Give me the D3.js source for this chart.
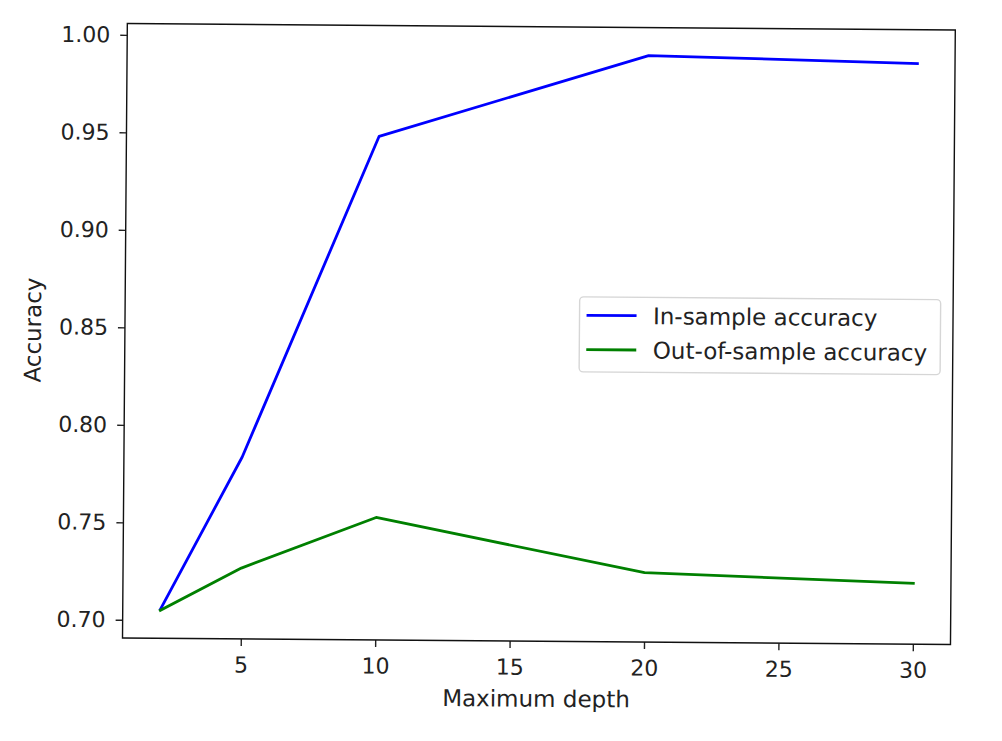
<!DOCTYPE html>
<html>
<head>
<meta charset="utf-8">
<script src="https://cdn.jsdelivr.net/npm/d3@7"></script>
<style>
  body { margin: 0; background: #fff; }
  text { font-family: "DejaVu Sans", sans-serif; fill: #222; }
</style>
</head>
<body>
<svg></svg>
<script>
// values
const depths = [2, 5, 10, 20, 30];
const inSample = [0.7055, 0.784, 0.949, 0.9915, 0.9885];
const outSample = [0.705, 0.727, 0.7535, 0.7263, 0.7219];
const xTicks = [5, 10, 15, 20, 25, 30];
const yTicks = [0.70, 0.75, 0.80, 0.85, 0.90, 0.95, 1.00];
const seriesNames = ["In-sample accuracy", "Out-of-sample accuracy"];
const seriesColors = ["#0000ff", "#008000"];

const W = 1002, H = 741;
const left = 122.5, bottom = 638;
const width = 828, height = 614.5;

const svg = d3.select("svg")
    .attr("width", W)
    .attr("height", H)
    .attr("viewBox", [0, 0, W, H]);

// the photo is slightly tilted
const root = svg.append("g")
    .attr("transform", `rotate(0.45, ${left}, ${bottom})`);

const g = root.append("g")
    .attr("transform", `translate(${left},${bottom - height})`);

// matplotlib style 5% margins
const xr = d3.extent(depths);
const xPad = (xr[1] - xr[0]) * 0.05;
const allY = inSample.concat(outSample);
const yr = d3.extent(allY);
const yPad = (yr[1] - yr[0]) * 0.05;

const x = d3.scaleLinear().domain([xr[0] - xPad, xr[1] + xPad]).range([0, width]);
const y = d3.scaleLinear().domain([yr[0] - yPad, yr[1] + yPad]).range([height, 0]);

const xAxis = g.append("g")
    .attr("transform", `translate(0,${height})`)
    .call(d3.axisBottom(x).tickValues(xTicks).tickSize(7).tickPadding(11).tickFormat(d3.format("d")));

const yAxis = g.append("g")
    .call(d3.axisLeft(y).tickValues(yTicks).tickSize(7).tickPadding(10).tickFormat(d3.format(".2f")));

[xAxis, yAxis].forEach(a => {
    a.select(".domain").remove();
    a.selectAll(".tick line").attr("stroke", "#222").attr("stroke-width", 1.4);
    a.selectAll(".tick text")
        .style("font-size", "22px")
        .style("font-family", "DejaVu Sans")
        .attr("fill", "#222");
});

// lines
const line = d3.line()
    .x((d, i) => x(depths[i]))
    .y(d => y(d));

[inSample, outSample].forEach((s, k) => {
    g.append("path")
        .datum(s)
        .attr("fill", "none")
        .attr("stroke", seriesColors[k])
        .attr("stroke-width", 2.8)
        .attr("stroke-linejoin", "round")
        .attr("stroke-linecap", "square")
        .attr("d", line);
});

// frame
g.append("rect")
    .attr("width", width)
    .attr("height", height)
    .attr("fill", "none")
    .attr("stroke", "#111")
    .attr("stroke-width", 1.4);

// axis labels
g.append("text")
    .attr("x", width / 2)
    .attr("y", height + 65.5)
    .attr("text-anchor", "middle")
    .style("font-size", "23px")
    .text("Maximum depth");

g.append("text")
    .attr("transform", `translate(${38.5 - left},${height / 2}) rotate(-90)`)
    .attr("text-anchor", "middle")
    .style("font-size", "23px")
    .text("Accuracy");

// legend
const legW = 361, legH = 75;
const leg = g.append("g")
    .attr("transform", `translate(${width - 12.5 - legW},${height / 2 - legH / 2})`);

leg.append("rect")
    .attr("width", legW)
    .attr("height", legH)
    .attr("rx", 4)
    .attr("fill", "#fff")
    .attr("fill-opacity", 0.8)
    .attr("stroke", "#d6d6d6")
    .attr("stroke-width", 1.4);

seriesNames.forEach((name, k) => {
    const yy = 18.4 + k * 34.3;
    leg.append("line")
        .attr("x1", 7)
        .attr("x2", 57)
        .attr("y1", yy)
        .attr("y2", yy)
        .attr("stroke", seriesColors[k])
        .attr("stroke-width", 2.8);
    leg.append("text")
        .attr("x", 73.5)
        .attr("y", yy + 8.5)
        .style("font-size", "23px")
        .text(name);
});
</script>
</body>
</html>
